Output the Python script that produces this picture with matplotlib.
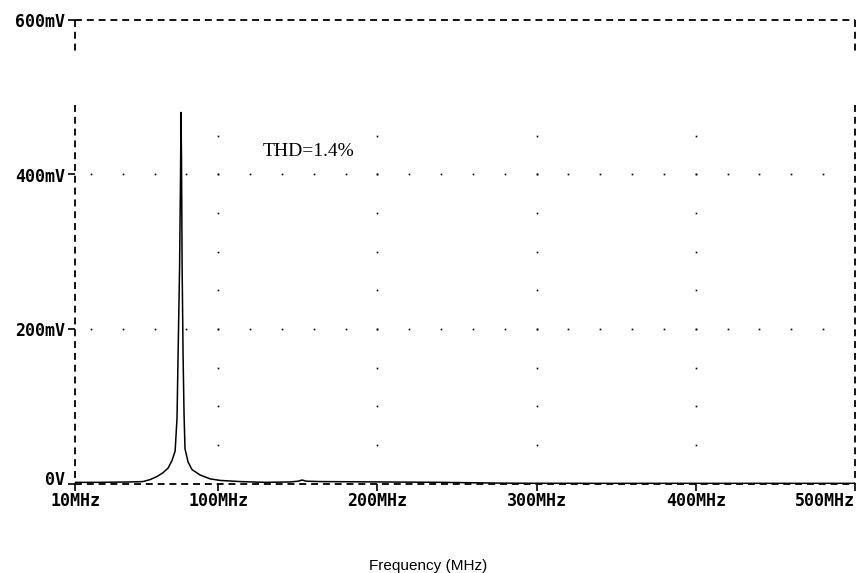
import numpy as np
import matplotlib.pyplot as plt
from matplotlib.transforms import ScaledTranslation

plt.rcParams['lines.scale_dashes'] = False

# spectrum trace (MHz, mV)
freq_mhz = [10, 25.7, 44.6, 52.7, 57.1, 61.5, 65.3, 68.5, 71.0, 72.9, 74.1, 74.7,
            75.7, 76.3, 76.6, 76.9, 77.3, 77.9, 78.5, 79.1, 81.0, 83.5, 88.6, 94.9,
            101.1, 113.7, 129.4, 145.1, 150.2, 152.7, 155.2, 164, 201.7, 239.4,
            258.3, 277, 296, 340, 500]
amp_mv = [1.5, 1.5, 2, 2.5, 5, 9, 14, 20, 30, 42, 85, 160,
          280, 400, 481, 420, 280, 165, 90, 45, 28, 18, 11, 6,
          4, 2.5, 1.5, 2, 3, 4.5, 3, 2.5, 2, 1.5,
          1, 0.5, 0.3, 0.2, 0.2]

x_ticks = [10, 100, 200, 300, 400, 500]
x_labels = ['10MHz', '100MHz', '200MHz', '300MHz', '400MHz', '500MHz']
y_ticks = [0, 200, 400, 600]
y_labels = ['0V', '200mV', '400mV', '600mV']

fig = plt.figure(figsize=(8.56, 5.73), dpi=100)
ax = fig.add_axes([75 / 856, 1 - 483.5 / 573, 780 / 856, 463.5 / 573])
ax.set_xlim(10, 500)
ax.set_ylim(0, 600)

# dotted grid (PSpice style)
gx = np.arange(20, 500, 20)
for gy in (200, 400):
    ax.plot(gx, np.full(len(gx), gy), ls='none', marker='s', ms=1.2, mew=0, color='black')
gyv = np.arange(50, 500, 50)
for vx in (100, 200, 300, 400):
    ax.plot(np.full(len(gyv), vx), gyv, ls='none', marker='s', ms=1.2, mew=0, color='black')

ax.plot(freq_mhz, amp_mv, color='black', lw=1.1, solid_joinstyle='miter')

# dashed frame with a break on both sides
for s in ax.spines.values():
    s.set_visible(False)
dash = dict(color='black', lw=1.3, ls=(0, (5, 3.5)), clip_on=False)
ax.plot([10, 500], [600, 600], **dash)
ax.plot([10, 500], [0, 0], **dash)
for xe in (10, 500):
    ax.plot([xe, xe], [600, 560], **dash)
    ax.plot([xe, xe], [490, 0], **dash)

ax.set_xticks(x_ticks)
ax.set_xticklabels(x_labels)
ax.set_yticks(y_ticks)
ax.set_yticklabels(y_labels)
ax.tick_params(axis='both', direction='out', length=5, width=1.2, color='black')
ax.tick_params(axis='x', pad=1)
ax.tick_params(axis='y', pad=2)
for lab in ax.get_xticklabels() + ax.get_yticklabels():
    lab.set_family('DejaVu Sans Mono')
    lab.set_fontweight('bold')
    lab.set_fontsize(12)
ax.get_xticklabels()[-1].set_horizontalalignment('right')
zero_lab = ax.get_yticklabels()[0]
zero_lab.set_transform(zero_lab.get_transform() + ScaledTranslation(0, 4 / 72, fig.dpi_scale_trans))

ax.text(128, 430, 'THD=1.4%', family='Liberation Serif', fontsize=14, va='center')
fig.text(428 / 856, 1 - 566 / 573, 'Frequency (MHz)', family='Liberation Sans',
         fontsize=11, ha='center', va='center')

fig.savefig('out.png', dpi=100)
